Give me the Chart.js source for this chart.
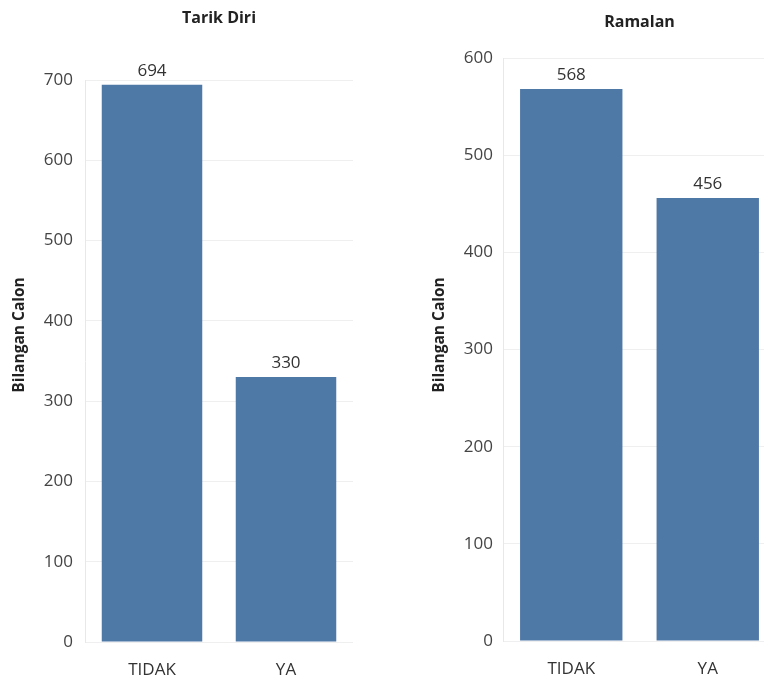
<!DOCTYPE html>
<html><head><meta charset="utf-8">
<script src="https://cdn.jsdelivr.net/npm/chart.js@4.4.1/dist/chart.umd.min.js"></script>
<style>
html,body{margin:0;padding:0;background:#fff;overflow:hidden;width:764px;height:675px;}
#wrap{position:relative;width:764px;height:675px;overflow:hidden;}
canvas{position:absolute;top:0;}
#c1{left:0;}
#c2{left:380px;}
</style></head><body>
<div id="wrap">
<canvas id="c1" width="380" height="675"></canvas>
<canvas id="c2" width="397" height="675"></canvas>
</div>
<script>
const categories = ['TIDAK', 'YA'];
const tarikDiriValues = [694, 330];
const ramalanValues = [568, 456];
const tarikDiriTitle = 'Tarik Diri';
const ramalanTitle = 'Ramalan';
const yAxisTitle = 'Bilangan Calon';
const tarikDiriMax = 700;
const ramalanMax = 600;
const tickStep = 100;

const FONT = '"Open Sans", "Noto Sans", sans-serif';
const BAR_COLOR = '#4e79a7';

const valueLabels = {
  id: 'valueLabels',
  afterDatasetsDraw(chart) {
    const ctx = chart.ctx;
    chart.data.datasets.forEach((ds, i) => {
      chart.getDatasetMeta(i).data.forEach((bar, j) => {
        ctx.save();
        ctx.font = '17px ' + FONT;
        ctx.fillStyle = '#333';
        ctx.textAlign = 'center';
        ctx.textBaseline = 'bottom';
        ctx.fillText(String(ds.data[j]), bar.x, bar.y - 5);
        ctx.restore();
      });
    });
  }
};

const chartTitles = {
  id: 'chartTitles',
  afterDraw(chart, args, opts) {
    const ctx = chart.ctx;
    const a = chart.chartArea;
    ctx.save();
    ctx.font = 'bold 16px ' + FONT;
    ctx.fillStyle = '#222';
    ctx.textAlign = 'center';
    ctx.textBaseline = 'middle';
    ctx.fillText(opts.text, (a.left + a.right) / 2, opts.y);
    ctx.translate(opts.axisX, opts.axisY);
    ctx.rotate(-Math.PI / 2);
    ctx.font = 'bold 15.5px ' + FONT;
    ctx.fillText(opts.axisText, 0, 0);
    ctx.restore();
  }
};

function makeChart(id, values, max, cfg) {
  return new Chart(document.getElementById(id), {
    type: 'bar',
    data: {
      labels: categories,
      datasets: [{
        data: values,
        backgroundColor: BAR_COLOR,
        barPercentage: 0.75,
        categoryPercentage: 1.0
      }]
    },
    options: {
      responsive: false,
      animation: false,
      devicePixelRatio: 1,
      layout: { padding: { top: cfg.top, right: cfg.right, left: 0, bottom: 0 } },
      plugins: {
        legend: { display: false },
        tooltip: { enabled: false },
        title: { display: false },
        chartTitles: { text: cfg.title, y: cfg.titleY, axisText: yAxisTitle, axisX: cfg.axisX, axisY: 335 }
      },
      scales: {
        x: {
          grid: { display: false },
          border: { display: false },
          ticks: { color: '#333', font: { size: 17, family: FONT }, padding: 10 },
          afterFit(s) { s.height = cfg.xHeight; }
        },
        y: {
          min: 0,
          max: max,
          ticks: { stepSize: tickStep, color: '#444', font: { size: 17, family: FONT }, padding: cfg.tickPad },
          grid: { color: '#efefef', drawTicks: false },
          border: { display: true, color: '#e8e8e8' },
          title: { display: false },
          afterFit(s) { s.width = cfg.yWidth; }
        }
      }
    },
    plugins: [valueLabels, chartTitles]
  });
}

makeChart('c1', tarikDiriValues, tarikDiriMax, {
  title: tarikDiriTitle, titleY: 18, top: 80, right: 27, xHeight: 33,
  yWidth: 85, tickPad: 12, axisX: 20
});
makeChart('c2', ramalanValues, ramalanMax, {
  title: ramalanTitle, titleY: 22, top: 58, right: 1, xHeight: 34,
  yWidth: 123, tickPad: 10, axisX: 60
});
</script>
</body></html>
